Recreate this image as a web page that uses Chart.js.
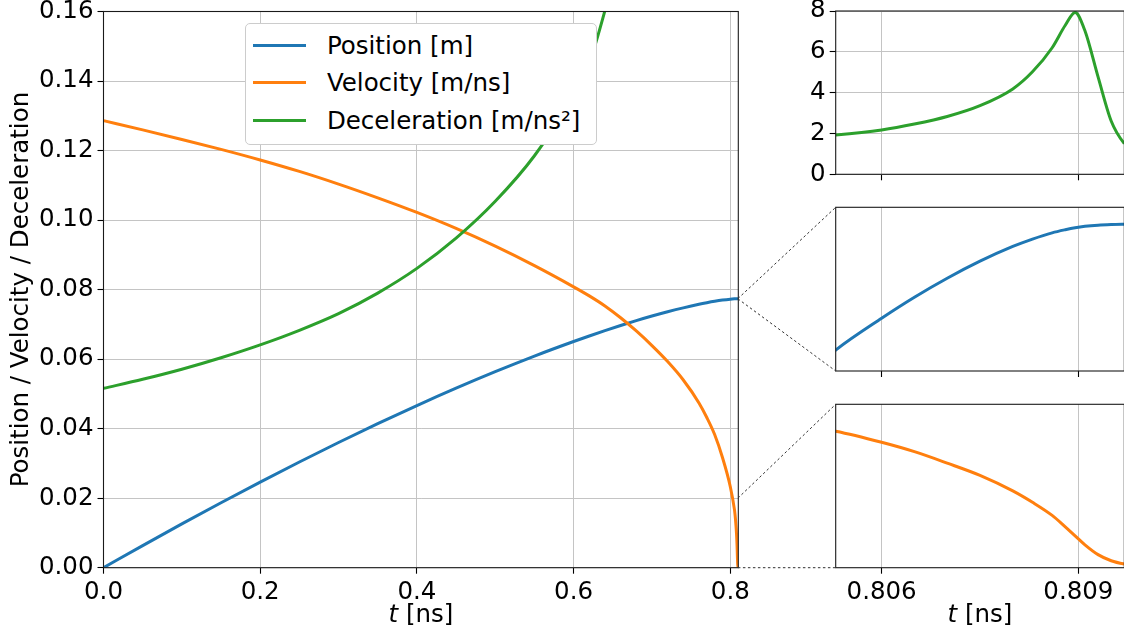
<!DOCTYPE html>
<html>
<head>
<meta charset="utf-8">
<script src="https://cdn.jsdelivr.net/npm/chart.js@4.4.0/dist/chart.umd.min.js"></script>
<style>
  html, body { margin: 0; padding: 0; background: #fff; }
  #wrap { position: relative; width: 1124px; height: 639px; overflow: hidden; background: #fff; }
  #wrap canvas { position: absolute; }
  #legend {
    position: absolute; box-sizing: border-box; width: 352px;
    background: #fff; border: 1px solid #cccccc; border-radius: 5px;
    padding: 2px 0 5px 7px;
    font: 24.5px 'DejaVu Sans', sans-serif; color: #000;
  }
  #legend .row { display: flex; align-items: center; height: 37.5px; white-space: nowrap; }
  #legend .swatch { width: 53px; height: 3px; margin-right: 21px; flex: none; }
</style>
</head>
<body>
<div id="wrap">
  <canvas id="main" width="770" height="639" style="left:0px;top:0px"></canvas>
  <canvas id="zoomDec" width="360" height="200" style="left:780px;top:0px"></canvas>
  <canvas id="zoomPos" width="360" height="200" style="left:780px;top:190px"></canvas>
  <canvas id="zoomVel" width="360" height="249" style="left:780px;top:390px"></canvas>
  <canvas id="links" width="1124" height="639" style="left:0px;top:0px;pointer-events:none"></canvas>
  <div id="legend"></div>
</div>
<script>
// time samples [ns], denser near the stop so the zoomed panels have detail
var times = [0, 0.05, 0.1, 0.15, 0.2, 0.25, 0.3, 0.35, 0.4, 0.45, 0.5, 0.55, 0.6, 0.62, 0.64,
    0.66, 0.68, 0.7, 0.72, 0.74, 0.76, 0.77, 0.78, 0.79, 0.8, 0.8053, 0.806, 0.8065, 0.807,
    0.8075, 0.808, 0.8083, 0.8086, 0.8088, 0.80895, 0.8091, 0.8093, 0.8095, 0.8097, 0.81, 0.8102];
var position = [0, 0.00636, 0.01259, 0.01868, 0.02462, 0.03040, 0.03601, 0.04143, 0.04665, 0.05164,
    0.05639, 0.06088, 0.06507, 0.06666, 0.06820, 0.06967, 0.07107, 0.07239, 0.07362, 0.07475,
    0.07577, 0.07622, 0.07663, 0.07698, 0.07725, 0.077356, 0.0773672, 0.0773746, 0.0773813,
    0.0773873, 0.0773925, 0.0773951, 0.0773973, 0.0773984, 0.0773991, 0.0773996, 0.0774,
    0.0774002, 0.0774003, 0.0774004, 0.0774004];
var velocity = [0.1286, 0.12595, 0.1232, 0.12035, 0.1173, 0.1140, 0.11035, 0.1064, 0.1022, 0.0976,
    0.0925, 0.0869, 0.0808, 0.0782, 0.0753, 0.0719, 0.0681, 0.0639, 0.0593, 0.0540, 0.0474,
    0.0432, 0.0383, 0.0317, 0.0233, 0.0167, 0.01535, 0.0142, 0.0128, 0.0113, 0.0094, 0.0080,
    0.0064, 0.0050, 0.0039, 0.0028, 0.0016, 0.00085, 0.00045, 0.00012, 0];
var deceleration = [0.0516, 0.0542, 0.0571, 0.0604, 0.0641, 0.0683, 0.0731, 0.0790, 0.0861, 0.0948,
    0.1054, 0.1185, 0.1358, 0.1452, 0.1603, 0.178, 0.198, 0.22, 0.245, 0.275, 0.32, 0.36, 0.42,
    0.52, 0.8, 1.925, 2.17, 2.46, 2.83, 3.36, 4.18, 5.02, 6.2, 7.3, 7.93, 7.03, 4.77, 2.61,
    1.50, 0.70, 0.40];

var seriesLabels = ['Position [m]', 'Velocity [m/ns]', 'Deceleration [m/ns\u00b2]'];
var seriesColors = ['#1f77b4', '#ff7f0e', '#2ca02c'];

var mainRangeT = [0, 0.8102];
var mainRangeY = [0, 0.16];
var zoomRangeT = [0.8053, 0.8097];
var zoomTicks = [0.806, 0.809];
var zoomRangeDec = [0, 8];
var zoomRangePos = [0.0773486, 0.0774063];
var zoomRangeVel = [0, 0.02];

var fontPx = 24.5;
Chart.defaults.font.family = "'DejaVu Sans', sans-serif";
Chart.defaults.font.size = fontPx;
Chart.defaults.color = '#000';

var gridColor = '#c4c4c4';

function points(values) {
    return times.map(function (t, i) { return { x: t, y: values[i] }; });
}

function lineSet(idx, values) {
    return {
        label: seriesLabels[idx],
        data: points(values),
        borderColor: seriesColors[idx],
        backgroundColor: seriesColors[idx],
        borderWidth: 3,
        pointRadius: 0,
        cubicInterpolationMode: 'monotone',
        clip: 0,
        order: 2 - idx
    };
}

// axes box on all four sides, like matplotlib spines
var framePlugin = {
    id: 'frame',
    afterDatasetsDraw: function (chart) {
        var a = chart.chartArea, ctx = chart.ctx;
        ctx.save();
        ctx.strokeStyle = '#1a1a1a';
        ctx.lineWidth = 1.1;
        ctx.strokeRect(a.left, a.top, a.right - a.left, a.bottom - a.top);
        ctx.restore();
    }
};

// x label with an italic t
var tTitlePlugin = {
    id: 'tTitle',
    afterDraw: function (chart, args, opts) {
        if (!opts.show) return;
        var a = chart.chartArea, ctx = chart.ctx;
        var y = chart.scales.x.bottom - opts.lift;
        var it = 'italic ' + fontPx + "px 'DejaVu Sans'", up = fontPx + "px 'DejaVu Sans'";
        ctx.save();
        ctx.fillStyle = '#000';
        ctx.textBaseline = 'middle';
        ctx.font = it;
        var w1 = ctx.measureText('t').width;
        ctx.font = up;
        var w2 = ctx.measureText(' [ns]').width;
        var x = (a.left + a.right) / 2 - (w1 + w2) / 2;
        ctx.font = it;
        ctx.fillText('t', x, y);
        ctx.font = up;
        ctx.fillText(' [ns]', x + w1, y);
        ctx.restore();
    }
};

function fixX(h) {
    return function (s) { s.height = h; s.paddingLeft = 0; s.paddingRight = 0; };
}
function fixY(w) {
    return function (s) { s.width = w; s.paddingTop = 0; s.paddingBottom = 0; };
}

var main = new Chart(document.getElementById('main'), {
    type: 'line',
    data: { datasets: [lineSet(0, position), lineSet(1, velocity), lineSet(2, deceleration)] },
    options: {
        responsive: false,
        animation: false,
        events: [],
        layout: { padding: { left: 0, top: 11.5, right: 31.7, bottom: 0 } },
        plugins: {
            legend: { display: false },
            tooltip: { enabled: false },
            tTitle: { show: true, lift: 23 }
        },
        scales: {
            x: {
                type: 'linear',
                min: mainRangeT[0], max: mainRangeT[1],
                ticks: {
                    stepSize: 0.2, includeBounds: false, padding: 4, maxRotation: 0, autoSkip: false,
                    callback: function (v) { return v.toFixed(1); }
                },
                grid: { color: gridColor, lineWidth: 1, tickColor: '#000', tickLength: 6, tickWidth: 1.1 },
                border: { display: false },
                afterFit: fixX(71.3)
            },
            y: {
                type: 'linear',
                min: mainRangeY[0], max: mainRangeY[1],
                ticks: {
                    stepSize: 0.02, includeBounds: false, padding: 4,
                    callback: function (v) { return v.toFixed(2); }
                },
                grid: { color: gridColor, lineWidth: 1, tickColor: '#000', tickLength: 6, tickWidth: 1.1 },
                border: { display: false },
                title: {
                    display: true,
                    text: 'Position / Velocity / Deceleration',
                    padding: { top: 7, bottom: 0 }
                },
                afterFit: fixY(103.5)
            }
        }
    },
    plugins: [framePlugin, tTitlePlugin]
});

function inset(canvasId, idx, values, rangeY, cfg) {
    return new Chart(document.getElementById(canvasId), {
        type: 'line',
        data: { datasets: [lineSet(idx, values)] },
        options: {
            responsive: false,
            animation: false,
            events: [],
            layout: { padding: { left: 0, top: cfg.top, right: cfg.right, bottom: 0 } },
            plugins: {
                legend: { display: false },
                tooltip: { enabled: false },
                tTitle: { show: cfg.xLabels, lift: 23 }
            },
            scales: {
                x: {
                    type: 'linear',
                    min: zoomRangeT[0], max: zoomRangeT[1],
                    afterBuildTicks: function (s) {
                        s.ticks = zoomTicks.map(function (v) { return { value: v }; });
                    },
                    ticks: {
                        display: cfg.xLabels, padding: 4, maxRotation: 0, autoSkip: false,
                        callback: function (v) { return v.toFixed(3); }
                    },
                    grid: { color: gridColor, lineWidth: 1, tickColor: '#000', tickLength: 6, tickWidth: 1.1 },
                    border: { display: false },
                    afterFit: fixX(cfg.xHeight)
                },
                y: {
                    type: 'linear',
                    min: rangeY[0], max: rangeY[1],
                    ticks: {
                        display: cfg.yLabels, stepSize: 2, padding: 4,
                        callback: function (v) { return String(v); }
                    },
                    grid: { display: cfg.yLabels, color: gridColor, lineWidth: 1, tickColor: '#000', tickLength: 6, tickWidth: 1.1 },
                    border: { display: false },
                    afterFit: fixY(55.7)
                }
            }
        },
        plugins: [framePlugin, tTitlePlugin]
    });
}

var decChart = inset('zoomDec', 2, deceleration, zoomRangeDec,
    { top: 11, right: 15.7, xHeight: 25.7, xLabels: false, yLabels: true });
var posChart = inset('zoomPos', 0, position, zoomRangePos,
    { top: 17.3, right: 15.7, xHeight: 19, xLabels: false, yLabels: false });
var velChart = inset('zoomVel', 1, velocity, zoomRangeVel,
    { top: 14.3, right: 15.7, xHeight: 71.3, xLabels: true, yLabels: false });

// dashed connectors from the zoomed spots of the main axes to the insets
function drawLinks() {
    var ctx = document.getElementById('links').getContext('2d');
    var xs = main.scales.x, ys = main.scales.y;
    var x0 = xs.getPixelForValue(zoomRangeT[1]);
    function corner(chart, which) {
        var c = chart.canvas, a = chart.chartArea;
        return [parseFloat(c.style.left) + a.left, parseFloat(c.style.top) + a[which]];
    }
    var segs = [
        [ys.getPixelForValue(zoomRangePos[1]), corner(posChart, 'top')],
        [ys.getPixelForValue(zoomRangePos[0]), corner(posChart, 'bottom')],
        [ys.getPixelForValue(zoomRangeVel[1]), corner(velChart, 'top')],
        [ys.getPixelForValue(zoomRangeVel[0]), corner(velChart, 'bottom')]
    ];
    ctx.save();
    ctx.strokeStyle = '#333';
    ctx.lineWidth = 1;
    ctx.setLineDash([2.5, 2.5]);
    segs.forEach(function (s) {
        ctx.beginPath();
        ctx.moveTo(x0, s[0]);
        ctx.lineTo(s[1][0], s[1][1]);
        ctx.stroke();
    });
    ctx.restore();
}
drawLinks();

// legend box, centred over the main axes
(function () {
    var box = document.getElementById('legend');
    var a = main.chartArea;
    box.style.left = ((a.left + a.right) / 2 - 176) + 'px';
    box.style.top = (a.top + 11.8) + 'px';
    seriesLabels.forEach(function (label, i) {
        var row = document.createElement('div');
        row.className = 'row';
        var sw = document.createElement('span');
        sw.className = 'swatch';
        sw.style.background = seriesColors[i];
        var tx = document.createElement('span');
        tx.textContent = label;
        row.appendChild(sw);
        row.appendChild(tx);
        box.appendChild(row);
    });
})();
</script>
</body>
</html>
